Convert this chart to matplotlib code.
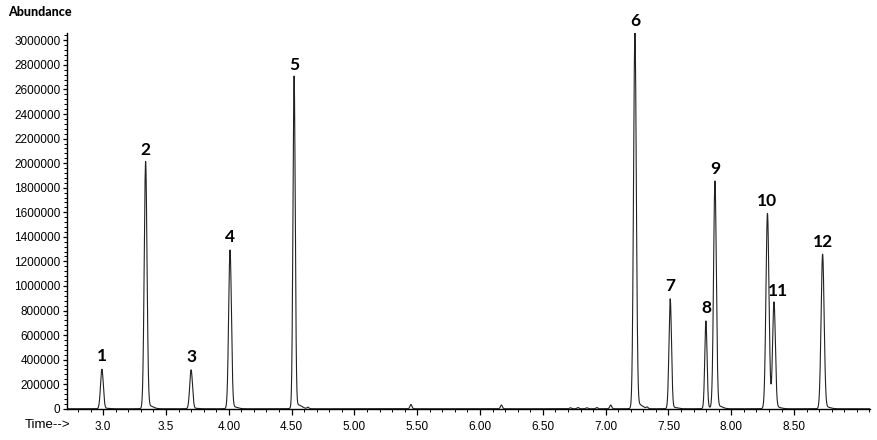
import matplotlib.pyplot as plt
import numpy as np
from matplotlib.ticker import MultipleLocator

# Chromatogram (TIC) with 12 numbered peaks

# peak list: retention time (min), abundance, width (sigma, min)
peak_times = [2.99, 3.338, 3.70, 4.01, 4.52, 7.233, 7.514, 7.798, 7.870, 8.288, 8.340, 8.727]
peak_heights = [320000, 2000000, 315000, 1285000, 2690000, 3050000,
                890000, 710000, 1840000, 1580000, 850000, 1250000]
peak_widths = [0.011, 0.011, 0.011, 0.011, 0.009, 0.011,
               0.010, 0.009, 0.011, 0.012, 0.011, 0.012]
peak_names = ['1', '2', '3', '4', '5', '6', '7', '8', '9', '10', '11', '12']

# small unlabelled bumps on the baseline
bump_times = [4.63, 5.45, 6.17, 6.72, 6.78, 6.85, 6.93, 7.04, 7.33]
bump_heights = [12000, 35000, 30000, 8000, 10000, 8000, 10000, 30000, 12000]

tick_values = [3.0, 3.5, 4.0, 4.5, 5.0, 5.5, 6.0, 6.5, 7.0, 7.5, 8.0, 8.5]
tick_labels = ['3.0', '3.5', '4.00', '4.50', '5.00', '5.50', '6.00',
               '6.50', '7.00', '7.50', '8.00', '8.50']

t = np.linspace(2.71, 9.105, 6000)
signal = np.zeros_like(t)
for rt, h, w in zip(peak_times, peak_heights, peak_widths):
    signal += h * np.exp(-0.5 * ((t - rt) / w) ** 2)
    # slight tailing on the right side
    signal += 0.012 * h * np.exp(-0.5 * ((t - rt - 0.03) / 0.03) ** 2)
for rt, h in zip(bump_times, bump_heights):
    signal += h * np.exp(-0.5 * ((t - rt) / 0.008) ** 2)

fig = plt.figure(figsize=(8.78, 4.40), dpi=100)
ax = fig.add_axes([0.076, 0.071, 0.915, 0.854])
ax.plot(t, signal, color='#222222', lw=0.8)

for rt, h, name in zip(peak_times, peak_heights, peak_names):
    dx = 3 if name == '11' else 0
    ax.annotate(name, (rt, h), xytext=(dx, 4), textcoords='offset points',
                ha='center', va='bottom', fontsize=12.5, fontweight='bold',
                family='Lato')

ax.set_xlim(2.71, 9.105)
ax.set_ylim(0, 3060000)
ax.set_xticks(tick_values)
ax.set_xticklabels(tick_labels)
ax.xaxis.set_minor_locator(MultipleLocator(0.1))
ax.set_yticks(np.arange(0, 3000001, 200000))
ax.set_yticklabels([str(v) for v in range(0, 3000001, 200000)])
ax.yaxis.set_minor_locator(MultipleLocator(40000))

for s in ['top', 'right']:
    ax.spines[s].set_visible(False)
ax.spines['left'].set_linewidth(1.0)
ax.spines['bottom'].set_linewidth(1.0)

ax.tick_params(axis='both', which='major', labelsize=8.5, length=4, width=0.9)
ax.tick_params(axis='both', which='minor', length=2, width=0.7)
ax.tick_params(axis='x', which='major', pad=5)
ax.tick_params(axis='y', which='major', length=3, pad=1.5)
for lab in ax.get_xticklabels() + ax.get_yticklabels():
    lab.set_family('Liberation Sans')

fig.text(0.009, 0.972, 'Abundance', fontsize=9, fontweight='black',
         family='Lato', ha='left', va='center')
fig.text(0.028, 0.034, 'Time-->', fontsize=9.5, family='Liberation Sans',
         ha='left', va='center')

fig.savefig('out.png', dpi=100)
